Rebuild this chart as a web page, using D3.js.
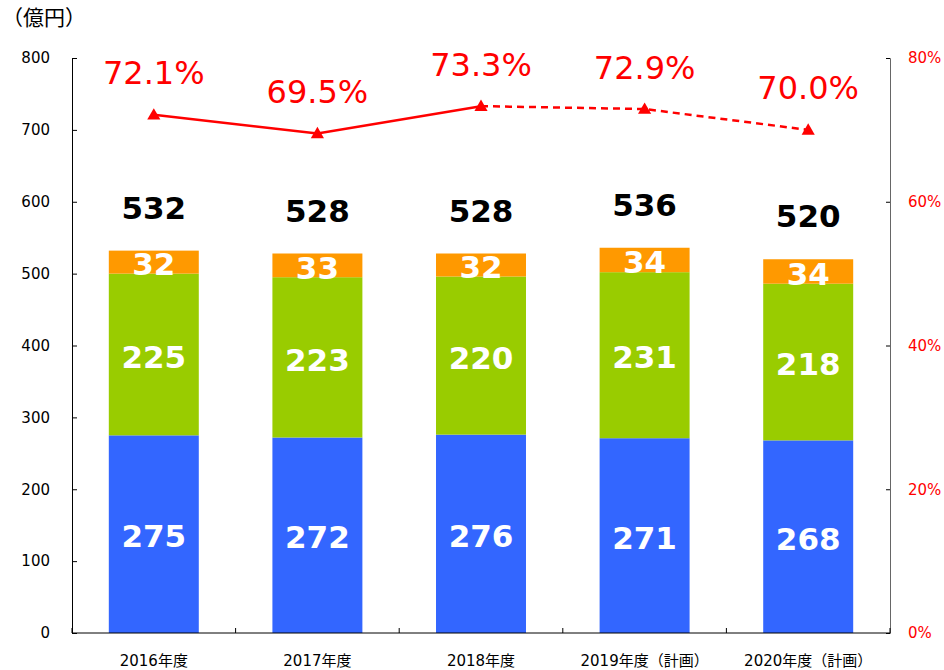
<!DOCTYPE html>
<html>
<head>
<meta charset="utf-8">
<script src="https://cdn.jsdelivr.net/npm/d3@7/dist/d3.min.js"></script>
<style>
  html, body { margin: 0; padding: 0; background: #fff; }
  svg { display: block; }
  text { font-family: "DejaVu Sans", "Noto Sans CJK JP", sans-serif; }
</style>
</head>
<body>
<svg id="chart" width="944" height="670"></svg>
<script>
// Fiscal years and the three stacked components (億円)
const categories = ["2016年度", "2017年度", "2018年度", "2019年度（計画）", "2020年度（計画）"];
const seriesBlue = [275, 272, 276, 271, 268];
const seriesGreen = [225, 223, 220, 231, 218];
const seriesOrange = [32, 33, 32, 34, 34];
const totals = [532, 528, 528, 536, 520];
// Ratio line (%), right axis
const ratios = [72.1, 69.5, 73.3, 72.9, 70.0];
const leftTicks = [0, 100, 200, 300, 400, 500, 600, 700, 800];
const rightTicks = [0, 20, 40, 60, 80];

const svg = d3.select("#chart");
const m = { left: 72, right: 890, top: 58, bottom: 633 };

const x = d3.scaleBand().domain(categories).range([m.left, m.right]).paddingInner(0.45).paddingOuter(0.225);
const y = d3.scaleLinear().domain([0, 800]).range([m.bottom, m.top]);
const y2 = d3.scaleLinear().domain([0, 80]).range([m.bottom, m.top]);

const keys = ["blue", "green", "orange"];
const colors = { blue: "#3366FF", green: "#99CC00", orange: "#FF9900" };
const rows = categories.map((c, i) => ({ cat: c, blue: seriesBlue[i], green: seriesGreen[i], orange: seriesOrange[i] }));
const stacked = d3.stack().keys(keys)(rows);

// Stacked bars
stacked.forEach(layer => {
  svg.append("g").selectAll("rect").data(layer).join("rect")
    .attr("x", d => x(d.data.cat))
    .attr("width", x.bandwidth())
    .attr("y", d => y(d[1]))
    .attr("height", d => y(d[0]) - y(d[1]))
    .attr("fill", colors[layer.key]);
});

// Segment value labels
stacked.forEach(layer => {
  svg.append("g").selectAll("text").data(layer).join("text")
    .attr("x", d => x(d.data.cat) + x.bandwidth() / 2)
    .attr("y", d => (y(d[0]) + y(d[1])) / 2 + 2)
    .attr("dy", "0.36em")
    .attr("text-anchor", "middle")
    .attr("fill", "#fff")
    .attr("font-weight", "bold")
    .attr("font-size", 31)
    .text(d => d.data[layer.key]);
});

// Totals above the bars
svg.append("g").selectAll("text").data(categories).join("text")
  .attr("x", c => x(c) + x.bandwidth() / 2)
  .attr("y", (c, i) => y(totals[i]) - 43)
  .attr("dy", "0.36em")
  .attr("text-anchor", "middle")
  .attr("fill", "#000")
  .attr("font-weight", "bold")
  .attr("font-size", 31)
  .text((c, i) => totals[i]);

// Left axis
const gL = svg.append("g").attr("transform", `translate(${m.left},0)`)
  .call(d3.axisLeft(y).tickValues(leftTicks).tickSize(-5).tickPadding(22));
gL.select(".domain").attr("stroke", "#000");
gL.selectAll("text").attr("font-size", 15).attr("fill", "#000")
  .style("font-family", "'DejaVu Sans', sans-serif");

// Right axis
const gR = svg.append("g").attr("transform", `translate(${m.right},0)`)
  .call(d3.axisRight(y2).tickValues(rightTicks).tickFormat(d => d + "%").tickSize(-4).tickPadding(18));
gR.select(".domain").attr("stroke", "#666");
gR.selectAll(".tick line").attr("stroke", "#000");
gR.selectAll("text").attr("font-size", 15).attr("fill", "#FF0000")
  .style("font-family", "'DejaVu Sans', sans-serif");

// Category axis with inward boundary ticks
const gX = svg.append("g").attr("transform", `translate(0,${m.bottom})`);
gX.append("line").attr("x1", m.left).attr("x2", m.right).attr("stroke", "#000");
const step = x.step();
const bounds = d3.range(categories.length + 1).map(i => m.left + i * step);
gX.selectAll("line.b").data(bounds).join("line").attr("class", "b")
  .attr("x1", d => d).attr("x2", d => d).attr("y1", 0).attr("y2", -5).attr("stroke", "#000");
gX.selectAll("text").data(categories).join("text")
  .attr("x", c => x(c) + x.bandwidth() / 2)
  .attr("y", 33)
  .attr("text-anchor", "middle")
  .attr("font-size", 15)
  .attr("fill", "#000")
  .text(c => c);

// Ratio line: actuals solid, plan years dashed
const cx = c => x(c) + x.bandwidth() / 2;
const pts = categories.map((c, i) => [cx(c), y2(ratios[i])]);
const line = d3.line();
svg.append("path").attr("d", line(pts.slice(0, 3))).attr("fill", "none")
  .attr("stroke", "#FF0000").attr("stroke-width", 2.5);
svg.append("path").attr("d", line(pts.slice(2))).attr("fill", "none")
  .attr("stroke", "#FF0000").attr("stroke-width", 2.5).attr("stroke-dasharray", "7,5");

svg.append("g").selectAll("path").data(pts).join("path")
  .attr("transform", d => `translate(${d[0]},${d[1] + 1})`)
  .attr("d", d3.symbol().type(d3.symbolTriangle).size(75))
  .attr("fill", "#FF0000");

svg.append("g").selectAll("text").data(categories).join("text")
  .attr("x", cx)
  .attr("y", (c, i) => y2(ratios[i]) - 42)
  .attr("dy", "0.36em")
  .attr("text-anchor", "middle")
  .attr("fill", "#FF0000")
  .attr("font-size", 32)
  .text((c, i) => ratios[i].toFixed(1) + "%");

// Unit label
svg.append("text").attr("x", 2).attr("y", 25).attr("font-size", 21).attr("fill", "#000")
  .style("font-family", "'Noto Sans CJK JP', sans-serif")
  .text("（億円）");
</script>
</body>
</html>
